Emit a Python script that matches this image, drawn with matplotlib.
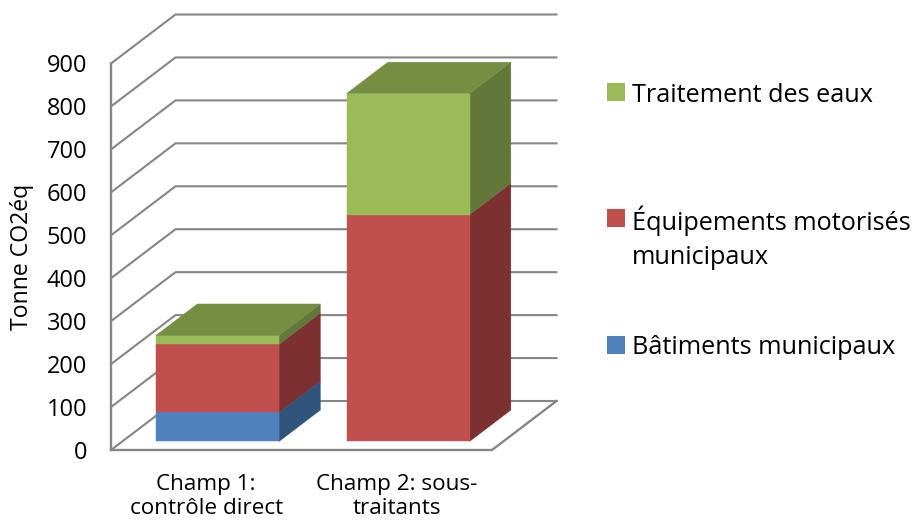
import matplotlib
matplotlib.use("Agg")
import matplotlib.pyplot as plt
from matplotlib.patches import Polygon, Rectangle

plt.rcParams['font.family'] = ['Open Sans', 'DejaVu Sans']

categories = ["Champ 1:\ncontrôle direct", "Champ 2: sous-\ntraitants"]
batiments = [68, 0]
equipements = [158, 528]
traitement = [21, 282]
series_names = ["Bâtiments municipaux", "Équipements motorisés\nmunicipaux", "Traitement des eaux"]
y_ticks = list(range(0, 1000, 100))
y_label = "Tonne CO2éq"

W, H = 915, 525
GRID = "#868686"
FRONT = ["#4F81BD", "#C0504D", "#9BBB59"]
SIDE = ["#31547C", "#7C302F", "#64773A"]
TOP = "#768E42"

fig = plt.figure(figsize=(W / 100, H / 100), dpi=100)
ax = fig.add_axes([111 / W, 1 - 450 / H, 381 / W, 386.5 / H])
ax.set_xlim(0, 2)
ax.set_ylim(0, 900)
ax.patch.set_visible(False)

# oblique projection: depth 0..1 shifts a point right and up
DX = 64.5 / (381 / 2)
DY = 49 * 900 / 386.5


def proj(x, y, d):
    return (x + d * DX, y + d * DY)


for v in y_ticks:
    ax.plot(*zip(proj(0, v, 0), proj(0, v, 1), proj(2, v, 1)), color=GRID, lw=1.5,
            clip_on=False, zorder=1, solid_joinstyle="miter")
ax.plot(*zip(proj(2, 0, 1), proj(2, 0, 0), proj(0, 0, 0), proj(0, 900, 0)), color=GRID,
        lw=1.7, clip_on=False, zorder=1, solid_joinstyle="miter")

D0, D1 = 0.175, 0.815
BAR_W = 0.646

for i in range(len(categories)):
    xl, xr = i + 0.5 - BAR_W / 2, i + 0.5 + BAR_W / 2
    base = 0
    for s, vals in enumerate([batiments, equipements, traitement]):
        v = vals[i]
        if v <= 0:
            continue
        t = base + v
        ax.add_patch(Polygon([proj(xr, base, D0), proj(xr, t, D0), proj(xr, t, D1), proj(xr, base, D1)],
                             closed=True, fc=SIDE[s], ec=SIDE[s], lw=0.3, clip_on=False, zorder=3))
        ax.add_patch(Polygon([proj(xl, base, D0), proj(xr, base, D0), proj(xr, t, D0), proj(xl, t, D0)],
                             closed=True, fc=FRONT[s], ec=FRONT[s], lw=0.3, clip_on=False, zorder=4))
        base = t
    ax.add_patch(Polygon([proj(xl, base, D0), proj(xr, base, D0), proj(xr, base, D1), proj(xl, base, D1)],
                         closed=True, fc=TOP, ec=TOP, lw=0.3, clip_on=False, zorder=5))

for sp in ax.spines.values():
    sp.set_visible(False)
ax.set_yticks(y_ticks)
ax.set_xticks([0.5, 1.5])
ax.set_xticklabels(categories, fontsize=16.2, linespacing=1.18)
ax.tick_params(axis="y", length=0, pad=17, labelsize=17, colors="black")
ax.tick_params(axis="x", length=0, pad=17.5)
fig.text(22 / W, 1 - 257 / H, y_label, rotation=90, ha="center", va="center", fontsize=16.6)


def legend_entry(i, sq_top, text_y):
    fig.add_artist(Rectangle((607 / W, 1 - (sq_top + 18) / H), 18 / W, 18 / H, transform=fig.transFigure,
                             fc=FRONT[i], ec="none"))
    fig.text(632 / W, 1 - text_y / H, series_names[i], ha="left", va="center", fontsize=18.2,
             linespacing=1.46)


legend_entry(2, 83, 95)
legend_entry(1, 209, 238)
legend_entry(0, 336, 347)

fig.savefig("out.png", dpi=100)
